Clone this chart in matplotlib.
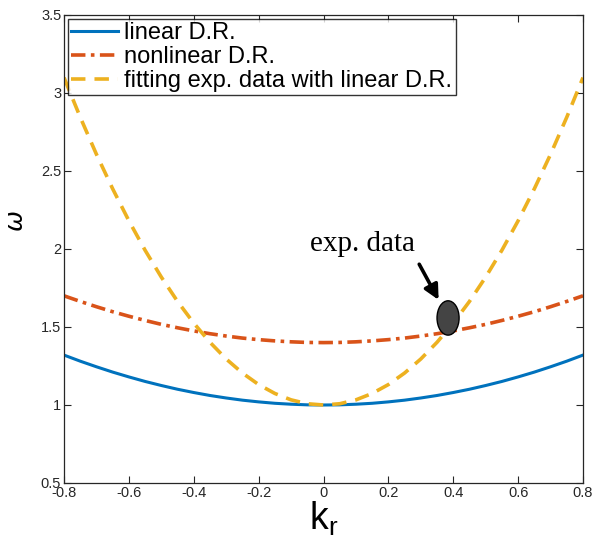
import matplotlib.pyplot as plt
from matplotlib.patches import Ellipse

plt.rcParams['font.family'] = ['Liberation Sans', 'DejaVu Sans']
plt.rcParams['mathtext.fontset'] = 'custom'
plt.rcParams['mathtext.rm'] = 'Liberation Sans'

# wave number samples
k_r = [-0.80, -0.75, -0.70, -0.65, -0.60, -0.55, -0.50, -0.45, -0.40, -0.35, -0.30,
       -0.25, -0.20, -0.15, -0.10, -0.05, 0.00, 0.05, 0.10, 0.15, 0.20, 0.25, 0.30,
       0.35, 0.40, 0.45, 0.50, 0.55, 0.60, 0.65, 0.70, 0.75, 0.80]

omega_linear = [1.320, 1.281, 1.245, 1.211, 1.180, 1.151, 1.125, 1.101, 1.080, 1.061, 1.045,
                1.031, 1.020, 1.011, 1.005, 1.001, 1.000, 1.001, 1.005, 1.011, 1.020, 1.031,
                1.045, 1.061, 1.080, 1.101, 1.125, 1.151, 1.180, 1.211, 1.245, 1.281, 1.320]

omega_nonlinear = [1.700, 1.664, 1.630, 1.598, 1.569, 1.542, 1.517, 1.495, 1.475, 1.457, 1.442,
                   1.429, 1.419, 1.411, 1.405, 1.401, 1.400, 1.401, 1.405, 1.411, 1.419, 1.429,
                   1.442, 1.457, 1.475, 1.495, 1.517, 1.542, 1.569, 1.598, 1.630, 1.664, 1.700]

omega_fit = [3.099, 2.845, 2.607, 2.386, 2.181, 1.992, 1.820, 1.664, 1.525, 1.402, 1.295,
             1.205, 1.131, 1.074, 1.033, 1.008, 1.000, 1.008, 1.033, 1.074, 1.131, 1.205,
             1.295, 1.402, 1.525, 1.664, 1.820, 1.992, 2.181, 2.386, 2.607, 2.845, 3.099]

exp_k = [0.384]
exp_omega = [1.558]

fig = plt.figure(figsize=(5.97, 5.52), dpi=100)
ax = fig.add_axes([64 / 597, (552 - 483) / 552, 519 / 597, 468 / 552])

ax.plot(k_r, omega_linear, color='#0072BD', lw=2.2, label='linear D.R.')
ax.plot(k_r, omega_nonlinear, color='#D95319', lw=2.6, ls=(0, (4, 1.5, 1, 1.5)),
        label='nonlinear D.R.')
ax.plot(k_r, omega_fit, color='#EDB120', lw=2.6, ls=(0, (4, 2.5)),
        label='fitting exp. data with linear D.R.')

ax.add_patch(Ellipse((exp_k[0], exp_omega[0]), width=0.068, height=0.22,
                     facecolor='#444444', edgecolor='k', lw=1, zorder=5))
ax.annotate('', xy=(exp_k[0] - 0.025, exp_omega[0] + 0.1),
            xytext=(exp_k[0] - 0.093, exp_omega[0] + 0.36),
            arrowprops=dict(arrowstyle='-|>', color='k', lw=2.6, mutation_scale=22))
ax.text(0.12, 2.03, 'exp. data', family=['Liberation Serif', 'DejaVu Serif'],
        fontsize=21, ha='center', va='center')

ax.set_xlim(-0.8, 0.8)
ax.set_ylim(0.5, 3.5)
ax.set_xticks([-0.8, -0.6, -0.4, -0.2, 0, 0.2, 0.4, 0.6, 0.8])
ax.set_xticklabels(['-0.8', '-0.6', '-0.4', '-0.2', '0', '0.2', '0.4', '0.6', '0.8'])
ax.set_yticks([0.5, 1, 1.5, 2, 2.5, 3, 3.5])
ax.set_yticklabels(['0.5', '1', '1.5', '2', '2.5', '3', '3.5'])
ax.tick_params(direction='in', top=True, right=True, length=5, width=0.8,
               labelsize=10.5, colors='#262626', pad=2)
for s in ax.spines.values():
    s.set_color('#262626')
    s.set_linewidth(0.9)

ax.set_xlabel(r'$\mathregular{k_r}$', fontsize=27, labelpad=0)
ax.set_ylabel(r'$\omega$', fontsize=18, va='center')
ax.yaxis.set_label_coords(-0.092, 0.56)

leg = ax.legend(loc='upper left', fontsize=17, frameon=True, fancybox=False,
                edgecolor='k', handlelength=2.0, handletextpad=0.25, borderpad=0.15,
                labelspacing=0.08, borderaxespad=0.15)
leg.get_frame().set_linewidth(1.0)

fig.savefig('out.png', dpi=100)
